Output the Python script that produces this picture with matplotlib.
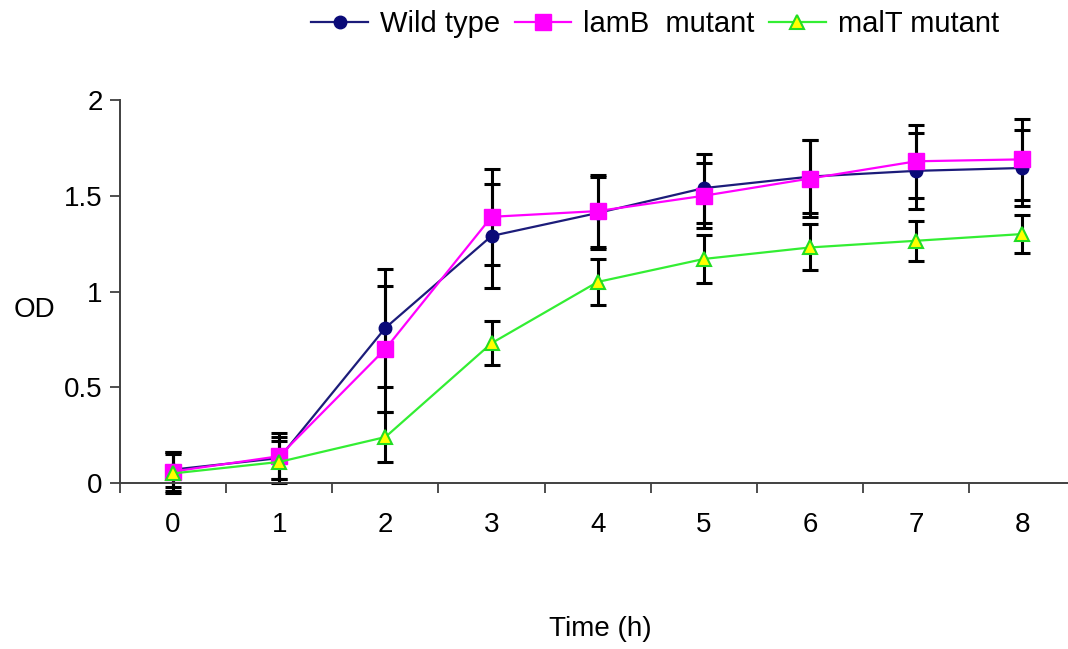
import matplotlib
matplotlib.use("Agg")
import matplotlib.pyplot as plt
from matplotlib.ticker import FixedLocator, NullFormatter

plt.rcParams['font.family'] = ['Liberation Sans', 'DejaVu Sans']

# Growth curves (OD) sampled hourly
time_h = [0, 1, 2, 3, 4, 5, 6, 7, 8]
time_labels = ["0", "1", "2", "3", "4", "5", "6", "7", "8"]

wild_type = [0.07, 0.13, 0.81, 1.29, 1.41, 1.54, 1.60, 1.63, 1.645]
wild_type_err = [0.09, 0.11, 0.31, 0.27, 0.19, 0.18, 0.19, 0.20, 0.20]

lamB_mutant = [0.06, 0.14, 0.70, 1.39, 1.42, 1.50, 1.59, 1.68, 1.69]
lamB_mutant_err = [0.10, 0.12, 0.33, 0.25, 0.19, 0.17, 0.20, 0.19, 0.21]

malT_mutant = [0.05, 0.11, 0.24, 0.73, 1.05, 1.17, 1.23, 1.265, 1.30]
malT_mutant_err = [0.10, 0.11, 0.13, 0.115, 0.12, 0.125, 0.12, 0.105, 0.10]

y_ticks = [0, 0.5, 1, 1.5, 2]
y_tick_labels = ["0", "0.5", "1", "1.5", "2"]

W, H = 1068, 649
fig = plt.figure(figsize=(W / 100, H / 100), dpi=100)
ax = fig.add_axes([120 / W, (H - 483) / H, (W - 120) / W, (483 - 100) / H])

series = [
    ("Wild type", wild_type, wild_type_err,
     dict(color="#1c1c7a", marker="o", markersize=9,
          markerfacecolor="#0a0a78", markeredgecolor="#0a0a78")),
    ("lamB  mutant", lamB_mutant, lamB_mutant_err,
     dict(color="#ff00ff", marker="s", markersize=12,
          markerfacecolor="#ff00ff", markeredgecolor="#ff00ff")),
    ("malT mutant", malT_mutant, malT_mutant_err,
     dict(color="#33ee33", marker="^", markersize=10,
          markerfacecolor="#ffff00", markeredgecolor="#22dd22",
          markeredgewidth=1.5)),
]

for _, vals, errs, _style in series:
    ax.errorbar(time_h, vals, yerr=errs, fmt="none", ecolor="black",
                elinewidth=2.2, capsize=6, capthick=2.2, zorder=2,
                clip_on=False)

handles = []
for i, (label, vals, errs, style) in enumerate(series):
    ln, = ax.plot(time_h, vals, linewidth=1.6, label=label,
                  zorder=3 + i, clip_on=False, **style)
    handles.append(ln)

ax.set_xlim(-0.5, 8.43)
ax.set_ylim(0, 2)

# Category-style x axis: tick marks between the hours, labels centred on them
ax.xaxis.set_major_locator(FixedLocator([t - 0.5 for t in time_h] + [time_h[-1] + 0.5]))
ax.xaxis.set_major_formatter(NullFormatter())
ax.xaxis.set_minor_locator(FixedLocator(time_h))
ax.set_xticks(time_h, time_labels, minor=True)
ax.tick_params(axis="x", which="major", direction="out", length=7, width=1.3,
               color="#404040")
ax.tick_params(axis="x", which="minor", length=0, pad=21, labelsize=20)

ax.set_yticks(y_ticks, y_tick_labels)
ax.tick_params(axis="y", direction="out", length=7, width=1.3, color="#404040",
               pad=5.5, labelsize=20)

for side in ("top", "right"):
    ax.spines[side].set_visible(False)
for side in ("left", "bottom"):
    ax.spines[side].set_color("#404040")
    ax.spines[side].set_linewidth(1.4)

fig.text(34 / W, (H - 310) / H, "OD", fontsize=20, ha="center", va="center")
fig.text(600 / W, (H - 629) / H, "Time (h)", fontsize=20, ha="center",
         va="center")

fig.legend(handles=handles, loc="center", bbox_to_anchor=(655 / W, (H - 24) / H),
           ncol=3, frameon=False, fontsize=21, handlelength=1.95,
           handletextpad=0.4, columnspacing=0.5, borderpad=0)

fig.savefig("out.png", dpi=100)
